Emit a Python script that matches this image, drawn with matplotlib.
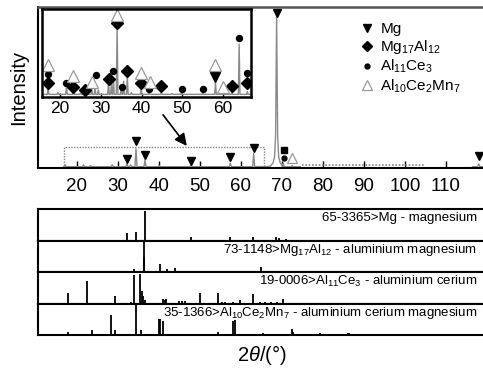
import matplotlib
matplotlib.use("Agg")
import matplotlib.pyplot as plt
from matplotlib.lines import Line2D

plt.rcParams['font.family'] = ['Liberation Sans', 'DejaVu Sans']
plt.rcParams['mathtext.fontset'] = 'custom'
plt.rcParams['mathtext.rm'] = 'Liberation Sans'
plt.rcParams['mathtext.it'] = 'Liberation Sans:italic'
plt.rcParams['mathtext.bf'] = 'Liberation Sans:bold'

# ---------------- data ----------------
# main diffractogram peaks (2theta, relative intensity)
main_peak_pos = [17.1, 21.6, 23.3, 28.6, 32.2, 33.1, 34.4, 36.6, 40.0, 47.8, 57.4, 63.1, 70.3, 72.5]
main_peak_h = [0.02, 0.02, 0.015, 0.02, 0.03, 0.02, 0.12, 0.05, 0.015, 0.02, 0.03, 0.09, 0.03, 0.015]
big_peak_pos = 68.7
big_peak_offsets = [-1.6, -0.9, -0.5, -0.25, 0.0, 0.25, 0.5, 0.9, 1.6]
big_peak_profile = [0.010, 0.03, 0.07, 0.2, 0.95, 0.2, 0.07, 0.03, 0.010]
far_peak_pos = [118.0]
far_peak_h = [0.025]
trace_start, trace_end = 16.8, 74.5
dotted_start, dotted_end = 74.9, 104.9
baseline = 0.008

# phase markers on main plot
main_mg_x = [32.2, 34.4, 36.6, 47.8, 57.4, 63.1, 68.7, 118.0]
main_mg_y = [0.056, 0.168, 0.081, 0.043, 0.070, 0.124, 0.960, 0.075]
main_sq_x, main_sq_y = [70.6], [0.112]
main_dot_x, main_dot_y = [70.6], [0.060]
main_tri_x, main_tri_y = [72.5], [0.060]

# inset (zoomed) diffractogram
inset_pos = [17.1, 19.5, 21.6, 23.3, 25.0, 27.8, 28.6, 29.4, 31.9, 32.6, 33.1, 34.0, 35.0,
             35.6, 36.5, 37.5, 39.9, 41.8, 44.8, 47.5, 49.8, 55.0, 58.1, 59.9, 62.1, 63.9, 65.9]
inset_h = [0.10, 0.05, 0.12, 0.09, 0.04, 0.09, 0.10, 0.08, 0.17, 0.14, 0.20, 0.80, 0.12,
           0.18, 0.25, 0.05, 0.09, 0.06, 0.05, 0.04, 0.06, 0.05, 0.17, 0.06, 0.05, 0.60, 0.06]
inset_base = 0.03
inset_mg_x, inset_mg_y = [58.1], [0.23]
inset_mgal_x = [17.1, 23.3, 26.1, 31.9, 34.0, 36.5, 39.9, 44.8, 62.1, 65.9]
inset_mgal_y = [0.16, 0.11, 0.08, 0.21, 0.84, 0.29, 0.16, 0.12, 0.12, 0.16]
inset_alce_x = [17.1, 21.6, 28.9, 33.1, 35.3, 41.8, 49.8, 55.0, 63.9, 65.9]
inset_alce_y = [0.26, 0.16, 0.25, 0.30, 0.11, 0.09, 0.09, 0.09, 0.67, 0.27]
inset_alcemn_x = [17.1, 23.3, 27.8, 34.0, 39.9, 42.1, 58.1, 59.9]
inset_alcemn_y = [0.36, 0.24, 0.17, 0.93, 0.27, 0.17, 0.36, 0.11]

main_ticks = [20, 30, 40, 50, 60, 70, 80, 90, 100, 110]
inset_ticks = [20, 30, 40, 50, 60]

legend_labels = ['Mg', r'Mg$_{17}$Al$_{12}$', r'Al$_{11}$Ce$_3$', r'Al$_{10}$Ce$_2$Mn$_7$']

# reference patterns (stick positions, relative intensity)
ref_labels = ['65-3365>Mg - magnesium',
              r'73-1148>Mg$_{17}$Al$_{12}$ - aluminium magnesium',
              r'19-0006>Al$_{11}$Ce$_3$ - aluminium cerium',
              r'35-1366>Al$_{10}$Ce$_2$Mn$_7$ - aluminium cerium magnesium']
mg_pos = [32.2, 34.4, 36.6, 47.8, 57.4, 63.0, 67.3, 68.5, 69.3, 71.0, 72.5, 77.8, 80.9, 87.3,
          90.4, 96.7, 99.2, 102.4, 104.0, 107.7, 112.4, 117.6]
mg_h = [0.25, 0.28, 0.97, 0.11, 0.11, 0.10, 0.03, 0.10, 0.07, 0.04, 0.02, 0.02, 0.03, 0.02,
        0.02, 0.03, 0.02, 0.03, 0.02, 0.03, 0.02, 0.03]
mgal_pos = [20.6, 34.0, 36.3, 36.4, 40.2, 42.0, 43.8, 61.8, 63.2, 64.9, 67.1, 69.5, 70.2,
            72.0, 75.5, 79.0, 84.5, 90.0, 95.0]
mgal_h = [0.03, 0.10, 0.97, 0.50, 0.27, 0.11, 0.13, 0.03, 0.04, 0.15, 0.03, 0.03, 0.03,
          0.02, 0.02, 0.02, 0.02, 0.02, 0.02]
alce_pos = [17.8, 22.4, 29.2, 33.1, 33.8, 35.5, 35.8, 36.1, 36.5, 41.0, 41.4, 41.7, 45.0,
            45.6, 46.3, 50.0, 54.5, 55.3, 56.2, 58.0, 59.8, 63.0, 64.6, 65.8, 67.3, 68.8, 70.3]
alce_h = [0.34, 0.72, 0.25, 0.05, 0.93, 0.97, 0.42, 0.25, 0.10, 0.15, 0.12, 0.15, 0.07,
          0.07, 0.07, 0.35, 0.35, 0.06, 0.04, 0.05, 0.12, 0.30, 0.06, 0.05, 0.05, 0.06, 0.15]
alcemn_pos = [17.8, 23.7, 28.4, 29.3, 31.0, 33.2, 34.4, 35.7, 39.9, 40.2, 41.0, 45.0, 50.0,
              52.0, 54.5, 58.1, 58.6, 65.4, 72.4, 72.8, 79.3, 86.2, 86.4]
alcemn_h = [0.11, 0.17, 0.67, 0.17, 0.04, 0.04, 0.98, 0.16, 0.53, 0.53, 0.47, 0.04, 0.03,
            0.03, 0.10, 0.45, 0.50, 0.05, 0.18, 0.10, 0.06, 0.08, 0.08]
ref_pos = [mg_pos, mgal_pos, alce_pos, alcemn_pos]
ref_h = [mg_h, mgal_h, alce_h, alcemn_h]

# ---------------- figure ----------------
W, H = 483, 370
fig = plt.figure(figsize=(W / 100, H / 100), dpi=100)

def fx(px):
    return px / W

def fy(py):
    return 1 - py / H

XL, XR = 38, 486
xlim = (10.5, 10.5 + (XR - XL) / 4.1)
gray = '#8a8a8a'

# main axes
ax = fig.add_axes([fx(XL), fy(168), fx(XR - XL), (168 - 7) / H])
ax.set_xlim(*xlim)
ax.set_ylim(0, 1)

def triangle_trace(pos, hts, base, w, start, end):
    pts = sorted(zip(pos, hts))
    xs, ys = [start], [base]
    for p, h in pts:
        xs += [p - w, p, p + w]
        ys += [base, h, base]
    xs.append(end)
    ys.append(base)
    return xs, ys

# main trace with big peak profile
pts = sorted(list(zip(main_peak_pos, main_peak_h)) + [(big_peak_pos, None)])
tx, ty = [trace_start], [baseline]
for p, h in pts:
    if h is None:
        tx += [big_peak_pos + o for o in big_peak_offsets]
        ty += big_peak_profile
    else:
        tx += [p - 0.25, p, p + 0.25]
        ty += [baseline, h, baseline]
tx.append(trace_end)
ty.append(baseline)
ax.plot(tx, ty, color=gray, lw=1.0)
fx2, fy2 = triangle_trace(far_peak_pos, far_peak_h, baseline, 0.3, 116.5, 119.5)
ax.plot(fx2, fy2, color=gray, lw=1.0)
ax.plot([dotted_start, dotted_end], [0.02, 0.02], color=gray, lw=1.2, ls=(0, (1, 1)))

# dotted box showing the zoomed region
ax.plot([16.8, 16.8, 65.6, 65.6], [0, 0.13, 0.13, 0], color='#888888', lw=1.0, ls=(0, (1, 1)))

ax.plot(main_mg_x, main_mg_y, 'v', color='black', ms=6, ls='none', clip_on=False)
ax.plot(main_sq_x, main_sq_y, 's', color='black', ms=4.5, ls='none')
ax.plot(main_dot_x, main_dot_y, 'o', color='black', ms=3.5, ls='none')
ax.plot(main_tri_x, main_tri_y, '^', mfc='none', mec='#999999', ms=7, mew=0.9, ls='none')

ax.annotate('', xy=(46.8, 0.137), xytext=(41.0, 0.33),
            arrowprops=dict(arrowstyle='-|>', color='black', lw=1.2, mutation_scale=18,
                            shrinkA=0, shrinkB=0))

ax.set_xticks(main_ticks)
ax.tick_params(axis='x', direction='in', length=5, width=1.0, pad=7, labelsize=13.5)
ax.set_yticks([])
ax.set_ylabel('Intensity', fontsize=14.5, labelpad=7)
for s in ['left', 'bottom']:
    ax.spines[s].set_linewidth(1.5)
ax.spines['top'].set_linewidth(1.8)
ax.spines['top'].set_color('#555555')
ax.spines['right'].set_visible(False)

handles = [
    Line2D([], [], marker='v', color='black', ms=6, ls='none'),
    Line2D([], [], marker='D', color='black', ms=5.5, ls='none'),
    Line2D([], [], marker='o', color='black', ms=3.5, ls='none'),
    Line2D([], [], marker='^', mfc='none', mec='#999999', ms=7, mew=0.9, ls='none'),
]
ax.legend(handles, legend_labels, loc='upper left', bbox_to_anchor=(0.7165, 0.905),
          frameon=False, fontsize=11, handlelength=1.0, handletextpad=0.4,
          labelspacing=0.12, borderpad=0, borderaxespad=0)

# inset axes
axi = fig.add_axes([fx(42), fy(97), fx(251 - 42), (97 - 9) / H])
axi.set_xlim(15.6, 66.8)
axi.set_ylim(0, 1)
ix, iy = triangle_trace(inset_pos, inset_h, inset_base, 0.2, 15.6, 66.8)
axi.plot(ix, iy, color=gray, lw=1.0)
axi.plot(inset_mg_x, inset_mg_y, 'v', color='black', ms=6.5, ls='none')
axi.plot(inset_mgal_x, inset_mgal_y, 'D', color='black', ms=6.3, ls='none')
axi.plot(inset_alce_x, inset_alce_y, 'o', color='black', ms=4.3, ls='none')
axi.plot(inset_alcemn_x, inset_alcemn_y, '^', mfc='white', mec='#999999', ms=8, mew=0.9,
         ls='none', clip_on=False)
axi.set_xticks(inset_ticks)
axi.tick_params(axis='x', direction='in', length=3, width=1.0, pad=3, labelsize=12.5)
axi.set_yticks([])
for s in axi.spines.values():
    s.set_linewidth(1.8)

# reference pattern panels
tops = [209, 240.5, 272, 303.5]
ph = 31.5
for i in range(4):
    a = fig.add_axes([fx(XL), fy(tops[i] + ph), fx(XR - XL), ph / H])
    a.set_xlim(*xlim)
    a.set_ylim(0, 1.03)
    a.vlines(ref_pos[i], 0, ref_h[i], color='black', lw=1.3)
    a.set_xticks([])
    a.set_yticks([])
    for s in a.spines.values():
        s.set_linewidth(1.5)
    a.spines['right'].set_visible(False)
    a.text(0.98, 0.70, ref_labels[i], transform=a.transAxes, ha='right', va='center',
           fontsize=9.5)
    if i == 3:
        a.set_xlabel(r'2$\theta$/(°)', fontsize=14.5, labelpad=6)

fig.savefig('out.png', dpi=100)
